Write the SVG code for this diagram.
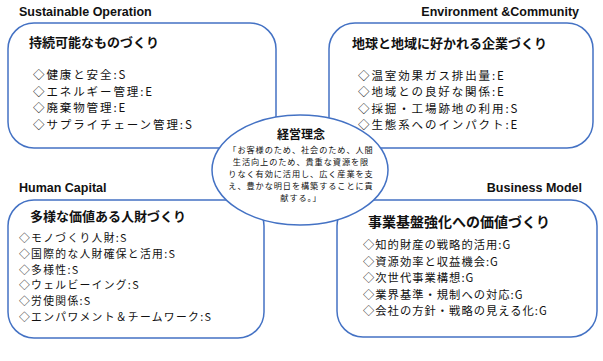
<svg xmlns="http://www.w3.org/2000/svg" width="603" height="361" viewBox="0 0 603 361">
<style>
.box{fill:#fff;stroke:#4472C4;stroke-width:1.5}
.sec{font-family:"Liberation Sans",Arial,sans-serif;font-weight:bold;font-size:12.5px;fill:#111}
.end{text-anchor:end}
.ttl{font-family:"Noto Sans CJK JP",sans-serif;font-weight:bold;font-size:13px;fill:#111}
.itm{font-family:"Noto Sans CJK JP",sans-serif;font-size:11.5px;fill:#111;letter-spacing:1.9px}
.itm2{font-family:"Noto Sans CJK JP",sans-serif;font-size:10.8px;fill:#111;letter-spacing:1.3px}
.itm3{font-family:"Noto Sans CJK JP",sans-serif;font-size:11.3px;fill:#111;letter-spacing:1px}
.ctr{font-family:"Noto Sans CJK JP",sans-serif;font-size:8.2px;fill:#111;text-anchor:middle;letter-spacing:0.9px}
.ctt{font-family:"Noto Sans CJK JP",sans-serif;font-weight:bold;font-size:12px;fill:#111;text-anchor:middle}
</style>
<rect width="603" height="361" fill="#fff"/>
<g id="labels">
<text class="sec" x="19" y="15.5">Sustainable Operation</text>
<text class="sec end" x="579" y="15.5">Environment &amp;Community</text>
<text class="sec" x="19" y="191.5">Human Capital</text>
<text class="sec end" x="582" y="191.5">Business Model</text>
</g>
<g id="sustainable">
<rect class="box" x="8" y="23" width="268" height="125" rx="26"/>
<text class="ttl" x="29" y="47">持続可能なものづくり</text>
<text class="itm" x="33" y="79">◇健康と安全:S</text>
<text class="itm" x="33" y="95.5">◇エネルギー管理:E</text>
<text class="itm" x="33" y="112">◇廃棄物管理:E</text>
<text class="itm" x="33" y="129">◇サプライチェーン管理:S</text>
</g>
<g id="environment">
<rect class="box" x="329" y="23" width="264" height="125" rx="26"/>
<text class="ttl" x="352" y="48">地球と地域に好かれる企業づくり</text>
<text class="itm" x="358" y="79.5">◇温室効果ガス排出量:E</text>
<text class="itm" x="358" y="96">◇地域との良好な関係:E</text>
<text class="itm" x="358" y="112.5">◇採掘・工場跡地の利用:S</text>
<text class="itm" x="358" y="129">◇生態系へのインパクト:E</text>
</g>
<g id="human">
<rect class="box" x="8" y="200" width="256" height="138" rx="26"/>
<text class="ttl" x="30" y="221">多様な価値ある人財づくり</text>
<text class="itm2" x="19" y="242">◇モノづくり人財:S</text>
<text class="itm2" x="19" y="257.5">◇国際的な人財確保と活用:S</text>
<text class="itm2" x="19" y="273.5">◇多様性:S</text>
<text class="itm2" x="19" y="289">◇ウェルビーイング:S</text>
<text class="itm2" x="19" y="305">◇労使関係:S</text>
<text class="itm2" x="19" y="321">◇エンパワメント＆チームワーク:S</text>
</g>
<g id="business">
<rect class="box" x="337" y="200" width="260" height="137" rx="26"/>
<text class="ttl" x="368" y="227" style="font-size:14px">事業基盤強化への価値づくり</text>
<text class="itm3" x="363" y="249">◇知的財産の戦略的活用:G</text>
<text class="itm3" x="363" y="265.5">◇資源効率と収益機会:G</text>
<text class="itm3" x="363" y="282">◇次世代事業構想:G</text>
<text class="itm3" x="363" y="298.5">◇業界基準・規制への対応:G</text>
<text class="itm3" x="363" y="315">◇会社の方針・戦略の見える化:G</text>
</g>
<g id="philosophy">
<ellipse class="box" cx="300" cy="170" rx="88" ry="55"/>
<text class="ctt" x="301" y="139">経営理念</text>
<text class="ctr" x="301" y="153">「お客様のため、社会のため、人間</text>
<text class="ctr" x="301" y="165">生活向上のため、貴重な資源を限</text>
<text class="ctr" x="301" y="177">りなく有効に活用し、広く産業を支</text>
<text class="ctr" x="301" y="189">え、豊かな明日を構築することに貢</text>
<text class="ctr" x="301" y="201">献する。」</text>
</g>
<g id="connectors"></g>
</svg>
